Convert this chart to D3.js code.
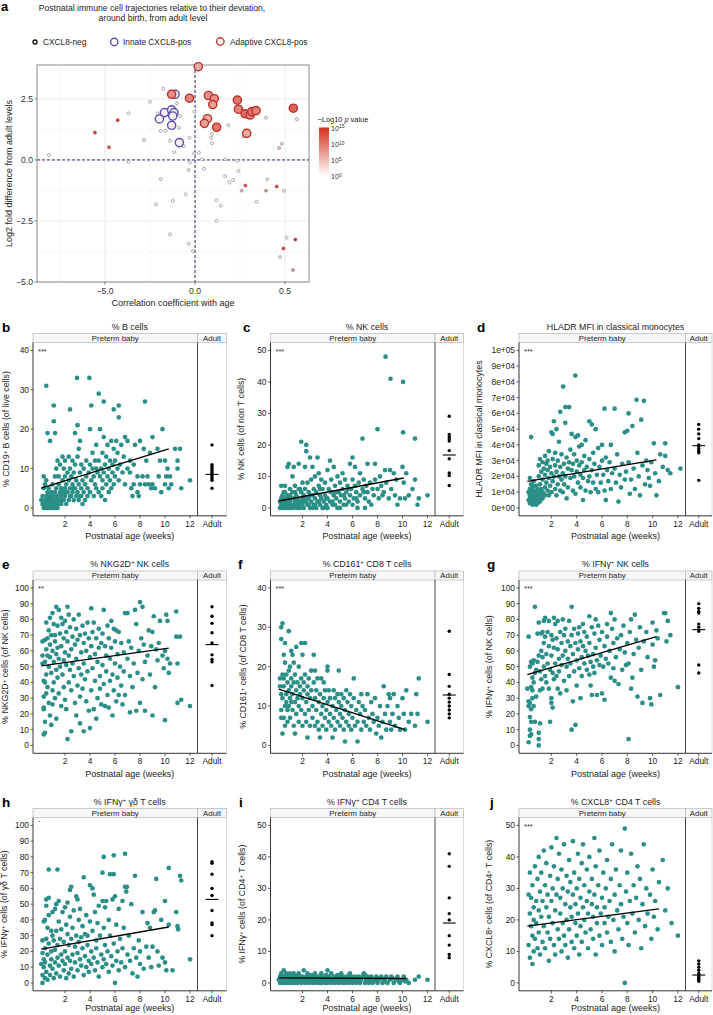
<!DOCTYPE html>
<html><head><meta charset="utf-8">
<script src="https://cdn.jsdelivr.net/npm/d3@7"></script>
<style>body{margin:0;background:#fff}svg{display:block;font-family:"Liberation Sans",Arial,Helvetica,sans-serif}</style>
</head><body>
<script>
// ---------- Panel a data: [correlation, log2 fold diff, -log10 p] ----------
const negPoints = [[-0.176,2.92,0],[-0.10,2.32,0],[-0.25,2.39,0],[-0.37,1.91,0],[-0.43,1.63,14],[-0.556,1.12,14],[-0.478,0.52,11],[-0.811,0.20,0],[-0.37,-0.08,0],[-0.283,0.82,1],[-0.207,1.91,0],[-0.19,1.19,0],[-0.163,1.20,0],[-0.139,0.79,0],[-0.115,0.32,0],[-0.089,1.32,0],[-0.083,1.80,0],[-0.063,0.57,0],[-0.031,0.91,0],[-0.006,0.27,0],[-0.004,1.97,0],[0.022,0.30,0],[-0.028,-0.11,0],[-0.035,-0.41,0],[0.039,0.03,0],[0.05,-0.36,0],[0.094,1.07,0],[0.089,0.91,0],[0.094,0.68,0],[0.185,1.42,0],[0.169,0.03,0],[0.235,-0.03,0],[0.241,-0.45,0],[0.269,0.96,2],[0.394,1.73,1],[0.565,1.67,1],[0.467,0.49,4],[0.481,0.66,3],[-0.19,-0.79,0],[-0.217,-1.82,0],[-0.124,-1.68,0],[-0.052,-1.41,0],[0.119,-1.65,0],[0.143,-1.87,0],[0.167,-0.66,0],[0.191,-0.93,0],[0.211,-0.82,0],[0.259,-1.26,6],[0.28,-1.05,12],[0.343,-1.71,0],[0.394,-1.26,8],[0.402,-0.79,1],[0.454,-1.09,13],[0.494,-1.26,0],[0.12,-2.50,0],[-0.139,-3.05,0],[-0.035,-3.43,0],[-0.011,-3.73,0],[0.509,-3.18,0],[0.557,-3.26,15],[0.491,-3.63,13],[0.472,-3.98,1],[0.544,-4.51,8]];
const innatePoints = [[-0.111,2.69,1],[-0.17,1.94,1],[-0.198,1.68,1],[-0.13,2.05,1],[-0.117,1.94,1],[-0.124,1.80,1],[-0.13,1.42,1],[-0.087,0.71,1]];
const adaptivePoints = [[0.018,3.82,6],[-0.031,2.53,9],[0.074,2.64,8],[0.107,2.51,8],[0.098,2.27,7],[0.069,1.69,6],[0.052,1.50,7],[0.12,1.34,10],[0.235,2.45,10],[0.241,2.08,9],[0.278,1.89,10],[0.306,1.84,9],[0.315,1.98,10],[0.339,2.02,9],[0.287,1.09,6],[0.546,2.12,11],[-0.13,2.69,8]];
const aXTicks = [-0.5,0,0.5], aXLabels = ["\u22125.0","0.0","0.5"];
const aYTicks = [2.5,0,-2.5,-5], aYLabels = ["2.5","0.0","\u22122.5","\u22125.0"];
const pLegendTicks = [15,10,5,0];

// ---------- Panels b-j: preterm [weeks, value] ----------
const ptB = [[0.1,2],[0.2,1],[0.2,3],[0.3,0],[0.3,5],[0.3,8],[0.4,1],[0.4,2],[0.4,6],[0.5,0],[0.5,3],[0.5,7],[0.5,31],[0.6,1],[0.6,2],[0.6,4],[0.6,19],[0.7,0],[0.7,1],[0.7,3],[0.7,5],[0.8,1],[0.8,2],[0.8,17],[0.9,0],[0.9,1],[0.9,4],[1.0,1],[1.0,2],[1.0,3],[1.0,6],[1.1,0],[1.1,1],[1.1,26],[1.1,22],[1.2,1],[1.2,4],[1.2,8],[1.2,19],[1.3,2],[1.3,5],[1.3,10],[1.4,1],[1.4,3],[1.4,12],[1.5,2],[1.5,6],[1.5,8],[1.6,4],[1.6,11],[1.7,1],[1.7,5],[1.8,2],[1.8,7],[1.8,13],[1.9,4],[1.9,10],[2.0,3],[2.0,5],[2.0,8],[2.0,12],[2.1,1],[2.1,6],[2.2,4],[2.2,9],[2.3,2],[2.3,7],[2.3,13],[2.4,5],[2.4,25],[2.4,10],[2.5,3],[2.5,8],[2.6,4],[2.6,6],[2.6,12],[2.7,2],[2.7,9],[2.8,5],[2.8,19],[2.8,11],[2.9,3],[2.9,7],[2.96,33],[3.0,4],[3.0,13],[3.0,21],[3.1,2],[3.1,6],[3.1,15],[3.2,3],[3.2,9],[3.2,17],[3.3,5],[3.3,11],[3.4,1],[3.4,7],[3.5,4],[3.5,10],[3.6,2],[3.6,6],[3.7,8],[3.7,12],[3.8,3],[3.8,5],[3.95,33],[3.9,9],[4.0,4],[4.0,11],[4.0,20],[4.1,7],[4.1,26],[4.2,10],[4.2,14],[4.3,3],[4.3,8],[4.4,6],[4.4,12],[4.5,5],[4.5,10],[4.5,16],[4.6,9],[4.7,4],[4.7,29],[4.7,12],[4.8,8],[4.8,20],[4.9,3],[4.9,10],[5.0,5],[5.0,7],[5.0,14],[5.1,9],[5.1,18],[5.1,27],[5.2,2],[5.2,11],[5.3,6],[5.3,13],[5.4,8],[5.4,16],[5.5,4],[5.5,10],[5.6,7],[5.6,12],[5.7,5],[5.7,17],[5.8,9],[5.8,11],[5.9,6],[5.9,15],[5.9,25],[6.0,8],[6.0,12],[6.1,17],[6.2,10],[6.2,14],[6.3,23],[6.3,26],[6.3,7],[6.4,11],[6.5,16],[6.6,9],[6.7,13],[6.8,6],[6.8,18],[7.0,10],[7.0,17],[7.2,9],[7.2,12],[7.3,5],[7.4,3],[7.5,6],[7.5,11],[7.6,16],[7.8,4],[7.8,8],[7.9,3],[8.0,6],[8.0,17],[8.2,8],[8.3,15],[8.4,6],[8.4,27],[8.5,12],[8.6,8],[8.7,6],[8.8,14],[8.9,5],[9.0,6],[9.0,18],[9.2,5],[9.4,15],[9.5,8],[9.6,12],[9.7,4],[9.8,20],[10.0,6],[10.0,12],[10.1,8],[10.2,10],[10.3,5],[10.4,8],[10.5,6],[10.8,15],[11.0,10],[11.0,12],[11.2,15],[11.3,5],[12.0,7],[0.3,1],[0.4,0],[0.5,2],[0.6,0],[0.7,2],[0.8,0],[0.9,2],[1.0,0],[1.1,2],[1.2,0],[1.3,1],[1.4,0],[0.8,3],[0.9,3],[1.2,2],[1.5,1],[1.6,2],[1.3,3],[1.7,3],[1.9,2],[2.1,4],[2.4,3],[2.7,5],[3.3,3]];
const ptC = [[0.2,0],[0.3,1],[0.3,3],[0.3,7],[0.4,0],[0.4,2],[0.5,1],[0.5,5],[0.6,0],[0.6,3],[0.6,7],[0.7,1],[0.7,2],[0.8,0],[0.8,4],[0.8,13],[0.9,1],[0.9,14],[1.0,0],[1.0,2],[1.0,6],[1.1,1],[1.1,3],[1.2,0],[1.2,5],[1.2,10],[1.3,1],[1.3,13],[1.4,2],[1.4,7],[1.5,0],[1.5,4],[1.6,1],[1.6,3],[1.7,14],[1.7,6],[1.8,0],[1.8,2],[1.9,21],[1.9,5],[2.0,1],[2.0,3],[2.0,8],[2.1,0],[2.1,4],[2.2,13],[2.2,6],[2.3,20],[2.3,18],[2.3,2],[2.4,1],[2.4,8],[2.5,3],[2.5,5],[2.6,0],[2.6,16],[2.7,2],[2.7,9],[2.8,4],[2.8,13],[2.9,1],[2.9,6],[3.0,3],[3.0,10],[3.1,0],[3.1,5],[3.2,2],[3.2,16],[3.3,7],[3.3,11],[3.4,1],[3.4,4],[3.5,3],[3.5,9],[3.6,0],[3.6,6],[3.7,2],[3.8,8],[3.8,4],[3.9,1],[4.0,3],[4.0,12],[4.1,6],[4.2,15],[4.2,2],[4.3,9],[4.3,5],[4.4,1],[4.5,4],[4.5,13],[4.6,7],[4.7,3],[4.8,10],[4.8,0],[4.9,5],[5.0,2],[5.0,8],[5.1,4],[5.2,11],[5.2,6],[5.3,1],[5.4,3],[5.4,9],[5.5,5],[5.6,7],[5.7,2],[5.8,14],[5.8,4],[5.9,6],[6.0,16],[6.0,9],[6.0,1],[6.1,3],[6.2,13],[6.2,7],[6.3,5],[6.4,2],[6.5,8],[6.6,11],[6.6,4],[6.8,22],[6.8,6],[6.9,9],[7.0,3],[7.1,7],[7.2,14],[7.2,5],[7.4,8],[7.5,1],[7.6,6],[7.7,4],[7.8,14],[7.8,9],[8.0,25],[8.0,6],[8.1,3],[8.2,10],[8.3,7],[8.5,5],[8.6,12],[8.64,48],[8.7,8],[8.9,3],[9.04,41],[9.0,12],[9.1,6],[9.3,11],[9.4,4],[9.5,9],[9.6,1],[9.8,3],[10.0,13],[10.05,24],[10.05,40],[10.1,8],[10.2,3],[10.3,11],[10.5,4],[10.8,6],[11.0,22],[11.0,9],[11.2,1],[11.3,3],[12.0,4],[0.2,2],[0.4,4],[0.5,0],[0.7,0],[0.9,3],[1.1,0],[1.3,3],[1.5,2],[1.7,0],[1.9,1],[2.1,2],[2.5,1],[2.8,0],[3.0,1],[3.3,2],[3.7,0],[4.0,0],[4.4,2],[4.6,1],[5.0,0],[5.5,1],[6.4,0],[7.0,0],[0.6,5],[1.0,4],[1.4,5],[1.8,6],[2.2,3],[2.6,4],[3.4,6],[3.9,3],[4.7,5],[5.3,4],[5.7,6],[6.3,3],[6.9,5],[7.3,2],[8.4,4]];
const ptD = [[0.2,1.0],[0.2,0.5],[0.3,0.3],[0.3,0.8],[0.3,1.2],[0.3,1.9],[0.4,0.4],[0.4,0.7],[0.4,1.0],[0.4,4.5],[0.4,1.5],[0.5,0.2],[0.5,0.6],[0.5,0.9],[0.5,1.3],[0.6,0.4],[0.6,0.8],[0.6,1.1],[0.6,1.7],[0.7,0.3],[0.7,0.6],[0.7,1.0],[0.8,0.5],[0.8,0.9],[0.8,1.4],[0.9,0.3],[0.9,0.7],[0.9,1.2],[1.0,0.5],[1.0,1.0],[1.0,2.0],[1.0,2.7],[1.1,0.8],[1.1,1.5],[1.1,3.1],[1.2,0.6],[1.2,1.2],[1.2,2.3],[1.3,1.0],[1.3,1.8],[1.3,2.9],[1.4,0.9],[1.4,2.5],[1.5,1.3],[1.5,2.1],[1.5,3.3],[1.6,1.6],[1.6,2.8],[1.7,1.1],[1.7,2.4],[1.7,3.0],[1.8,0.8],[1.8,1.9],[1.8,3.6],[1.9,1.4],[1.9,2.6],[2.0,1.0],[2.0,2.2],[2.0,4.8],[2.1,1.7],[2.1,3.1],[2.1,4.7],[2.2,2.0],[2.2,5.5],[2.3,1.2],[2.3,2.7],[2.3,3.5],[2.4,0.8],[2.4,2.3],[2.4,5.0],[2.5,1.5],[2.5,3.0],[2.6,2.0],[2.6,4.2],[2.7,6.1],[2.7,1.1],[2.7,2.6],[2.8,1.8],[2.8,3.4],[2.9,2.2],[2.93,7.7],[2.9,1.0],[3.0,2.8],[3.0,1.5],[3.1,6.4],[3.1,5.4],[3.1,2.0],[3.2,3.2],[3.2,0.6],[3.3,2.5],[3.3,1.3],[3.4,6.4],[3.4,2.9],[3.5,1.9],[3.5,3.7],[3.6,4.7],[3.6,2.4],[3.7,1.1],[3.7,2.8],[3.8,3.4],[3.8,2.0],[3.89,8.4],[3.9,4.5],[3.9,0.9],[4.0,2.3],[4.0,3.0],[4.1,4.6],[4.1,1.6],[4.2,2.7],[4.2,3.9],[4.3,1.3],[4.3,2.1],[4.4,4.0],[4.4,2.9],[4.5,0.5],[4.5,1.9],[4.6,3.3],[4.6,2.4],[4.7,4.3],[4.7,1.1],[4.8,2.6],[4.9,1.7],[5.0,5.5],[5.0,3.1],[5.0,2.0],[5.1,1.0],[5.2,2.4],[5.2,5.3],[5.3,1.6],[5.3,3.5],[5.4,2.8],[5.5,1.2],[5.5,5.0],[5.6,2.1],[5.7,3.8],[5.7,1.0],[5.8,2.6],[5.9,1.6],[6.0,3.0],[6.0,4.0],[6.1,2.1],[6.2,6.3],[6.2,1.1],[6.3,0.5],[6.3,3.2],[6.4,2.4],[6.5,1.7],[6.6,2.9],[6.7,4.0],[6.7,1.2],[6.8,2.2],[7.0,6.3],[7.0,2.5],[7.1,1.6],[7.2,3.4],[7.3,0.4],[7.4,2.1],[7.5,1.3],[7.6,2.8],[7.8,4.8],[7.8,1.8],[7.9,2.3],[8.0,4.9],[8.1,6.0],[8.1,2.9],[8.2,0.9],[8.3,1.8],[8.4,5.2],[8.5,2.5],[8.6,1.2],[8.73,6.86],[8.8,3.5],[8.9,2.0],[9.0,0.8],[9.1,5.6],[9.2,2.7],[9.31,6.8],[9.4,1.5],[9.5,3.0],[9.6,2.4],[9.8,1.4],[9.9,2.9],[10.1,4.1],[10.2,2.2],[10.3,0.8],[10.5,1.7],[10.8,2.6],[11.0,4.1],[11.0,3.3],[11.2,2.4],[11.4,2.2],[12.2,2.5],[10.6,3.4],[9.7,1.9],[0.3,0.6],[0.5,0.4],[0.7,0.8],[0.9,0.5],[0.4,1.2],[0.6,1.4],[0.8,0.2],[1.1,0.4],[1.3,0.6],[1.5,0.8]];
const ptE = [[0.2,52],[0.2,57],[0.2,66],[0.3,41],[0.3,31],[0.3,24],[0.3,23],[0.3,7],[0.4,8],[0.4,15],[0.4,40],[0.4,53],[0.4,67],[0.5,78],[0.5,61],[0.5,33],[0.5,45],[0.6,57],[0.6,68],[0.6,37],[0.7,50],[0.7,73],[0.7,27],[0.8,19],[0.8,56],[0.8,64],[0.8,81],[0.9,13],[0.9,46],[0.9,70],[1.0,60],[1.0,35],[1.0,26],[1.0,84],[1.1,77],[1.1,53],[1.1,40],[1.2,66],[1.2,30],[1.2,70],[1.3,88],[1.3,48],[1.3,17],[1.3,58],[1.4,76],[1.4,62],[1.4,43],[1.5,86],[1.5,55],[1.5,33],[1.6,71],[1.6,50],[1.7,81],[1.7,63],[1.7,25],[1.8,77],[1.8,45],[1.9,68],[1.9,37],[1.9,54],[2.0,79],[2.0,59],[2.0,29],[2.1,72],[2.1,51],[2.1,23],[2.2,88],[2.2,66],[2.2,4],[2.3,83],[2.3,57],[2.3,40],[2.4,75],[2.4,48],[2.5,9],[2.5,61],[2.5,35],[2.6,69],[2.6,52],[2.7,80],[2.7,44],[2.8,64],[2.8,27],[2.9,55],[2.9,19],[2.9,74],[3.0,67],[3.0,38],[3.1,83],[3.1,49],[3.2,70],[3.2,31],[3.2,14],[3.3,59],[3.3,45],[3.4,76],[3.4,36],[3.5,65],[3.5,9],[3.5,52],[3.6,71],[3.6,42],[3.7,60],[3.7,28],[3.8,78],[3.8,47],[3.9,68],[3.9,22],[4.0,56],[4.0,11],[4.1,87],[4.1,63],[4.1,35],[4.2,72],[4.2,49],[4.3,78],[4.3,23],[4.4,58],[4.4,41],[4.5,68],[4.5,17],[4.6,53],[4.6,30],[4.7,74],[4.7,62],[4.8,44],[4.8,36],[4.9,65],[4.9,26],[5.0,71],[5.0,51],[5.1,86],[5.1,39],[5.2,63],[5.2,25],[5.3,57],[5.3,47],[5.4,76],[5.4,32],[5.5,68],[5.5,24],[5.6,55],[5.6,41],[5.7,79],[5.7,62],[5.8,45],[5.8,19],[5.9,74],[5.9,35],[6.0,66],[6.0,52],[6.1,73],[6.1,28],[6.2,58],[6.2,43],[6.3,72],[6.3,32],[6.4,50],[6.5,65],[6.5,38],[6.6,26],[6.7,59],[6.7,47],[6.8,84],[6.8,32],[7.0,84],[7.0,55],[7.1,66],[7.2,44],[7.2,21],[7.3,62],[7.4,37],[7.5,52],[7.6,86],[7.7,77],[7.7,22],[7.8,46],[7.9,60],[8.0,91],[8.0,27],[8.1,68],[8.2,88],[8.2,42],[8.3,64],[8.4,53],[8.4,22],[8.6,57],[8.7,73],[8.8,45],[8.9,63],[9.0,19],[9.0,72],[9.1,82],[9.2,37],[9.3,61],[9.4,54],[9.5,65],[9.6,79],[9.8,57],[9.9,49],[10.0,16],[10.0,60],[10.1,83],[10.2,79],[10.2,55],[10.3,46],[10.4,52],[10.9,85],[10.9,69],[11.0,52],[11.0,27],[11.3,29],[11.2,69],[12.0,25]];
const ptF = [[0.2,15],[0.2,17],[0.3,27],[0.3,30],[0.3,13],[0.3,9],[0.3,7],[0.4,31],[0.4,18],[0.4,12],[0.4,3],[0.5,17],[0.5,23],[0.5,7],[0.5,15],[0.6,21],[0.6,26],[0.6,10],[0.6,5],[0.7,13],[0.7,18],[0.7,11],[0.8,16],[0.8,9],[0.8,6],[0.9,29],[0.9,19],[0.9,14],[0.9,10],[1.0,20],[1.0,12],[1.0,7],[1.1,24],[1.1,17],[1.1,11],[1.1,15],[1.2,23],[1.2,9],[1.2,13],[1.3,21],[1.3,16],[1.3,5],[1.4,3],[1.4,18],[1.4,11],[1.5,25],[1.5,14],[1.5,8],[1.6,12],[1.6,16],[1.7,20],[1.7,10],[1.7,6],[1.8,15],[1.8,13],[1.9,26],[1.9,17],[1.9,9],[2.0,23],[2.0,12],[2.0,5],[2.1,16],[2.1,14],[2.2,26],[2.2,18],[2.2,8],[2.3,11],[2.3,6],[2.4,2],[2.4,15],[2.4,13],[2.5,17],[2.5,9],[2.6,12],[2.6,5],[2.7,19],[2.7,14],[2.8,10],[2.8,7],[2.9,23],[2.9,16],[3.0,19],[3.0,12],[3.0,5],[3.1,9],[3.1,14],[3.2,17],[3.2,6],[3.3,11],[3.3,4],[3.4,2],[3.4,13],[3.5,17],[3.5,8],[3.6,10],[3.6,5],[3.7,16],[3.7,12],[3.8,7],[3.8,14],[3.9,9],[3.9,4],[4.0,20],[4.0,19],[4.0,11],[4.1,6],[4.1,14],[4.2,8],[4.2,12],[4.3,5],[4.4,2],[4.4,10],[4.5,14],[4.5,7],[4.6,12],[4.6,4],[4.7,9],[4.8,6],[4.8,13],[4.9,19],[4.9,11],[5.0,8],[5.0,5],[5.1,13],[5.1,10],[5.2,7],[5.3,4],[5.3,12],[5.4,1],[5.4,9],[5.5,14],[5.5,6],[5.6,11],[5.7,8],[5.7,5],[5.8,13],[5.9,10],[5.9,4],[6.0,7],[6.1,17],[6.1,12],[6.2,5],[6.3,9],[6.4,1],[6.4,6],[6.5,11],[6.6,8],[6.7,13],[6.7,4],[6.8,10],[6.9,6],[7.0,9],[7.1,5],[7.2,13],[7.3,7],[7.4,4],[7.5,11],[7.6,8],[7.7,6],[7.8,12],[7.9,3],[8.0,7],[8.1,5],[8.2,10],[8.3,2],[8.4,6],[8.5,15],[8.6,8],[8.7,4],[8.8,10],[8.9,13],[9.0,6],[9.0,12],[9.1,4],[9.2,8],[9.3,13],[9.4,5],[9.6,10],[9.7,7],[9.8,4],[10.0,12],[10.1,8],[10.2,4],[10.3,14],[10.5,6],[10.7,8],[11.0,5],[11.1,13],[11.2,8],[11.3,17],[12.0,6]];
const ptG = [[0.1,36],[0.2,28],[0.2,25],[0.2,2],[0.2,69],[0.3,18],[0.3,10],[0.3,6],[0.3,27],[0.3,50],[0.4,53],[0.4,15],[0.4,37],[0.4,7],[0.4,23],[0.5,30],[0.5,43],[0.5,52],[0.5,35],[0.6,40],[0.6,25],[0.6,54],[0.7,15],[0.7,88],[0.7,46],[0.8,48],[0.8,31],[0.9,53],[0.9,71],[1.0,0],[1.0,4],[1.0,8],[1.0,78],[1.0,57],[1.1,14],[1.1,35],[1.1,47],[1.2,71],[1.2,60],[1.2,42],[1.3,56],[1.3,72],[1.3,36],[1.4,79],[1.4,65],[1.4,50],[1.5,81],[1.5,69],[1.5,44],[1.6,58],[1.6,40],[1.7,72],[1.7,52],[1.8,79],[1.8,63],[1.8,36],[1.9,15],[1.9,48],[2.0,70],[2.0,57],[2.0,30],[2.0,27],[2.1,67],[2.1,46],[2.1,24],[2.2,81],[2.2,62],[2.2,42],[2.3,77],[2.3,52],[2.4,68],[2.4,44],[2.5,79],[2.5,61],[2.5,36],[2.6,55],[2.6,47],[2.7,72],[2.7,33],[2.8,65],[2.8,51],[2.9,80],[2.9,57],[3.0,70],[3.0,41],[3.1,74],[3.1,60],[3.2,50],[3.2,35],[3.3,66],[3.3,55],[3.4,79],[3.4,44],[3.5,63],[3.5,52],[3.6,88],[3.6,10],[3.6,70],[3.7,58],[3.7,28],[3.8,74],[3.8,47],[3.9,65],[3.9,13],[4.0,54],[4.0,38],[4.1,71],[4.1,61],[4.2,75],[4.2,49],[4.3,30],[4.3,66],[4.4,56],[4.4,44],[4.5,77],[4.5,63],[4.6,52],[4.6,72],[4.7,60],[4.8,48],[4.8,69],[4.9,57],[5.0,82],[5.0,45],[5.0,65],[5.1,53],[5.1,38],[5.2,75],[5.2,32],[5.3,58],[5.3,50],[5.4,71],[5.4,46],[5.5,80],[5.5,62],[5.6,32],[5.6,54],[5.7,76],[5.8,51],[5.8,67],[5.9,57],[6.0,33],[6.0,72],[6.1,50],[6.2,63],[6.2,29],[6.3,55],[6.4,77],[6.4,69],[6.5,52],[6.6,60],[6.7,84],[6.7,43],[6.8,74],[6.9,49],[6.9,65],[7.0,41],[7.0,80],[7.1,56],[7.2,68],[7.3,39],[7.4,61],[7.5,70],[7.6,48],[7.7,76],[7.8,59],[7.9,51],[8.0,65],[8.1,4],[8.1,52],[8.2,72],[8.3,36],[8.3,80],[8.4,43],[8.5,58],[8.6,83],[8.7,67],[8.8,31],[8.9,62],[9.0,75],[9.1,48],[9.2,27],[9.3,66],[9.5,72],[9.6,56],[9.8,30],[9.9,26],[10.0,78],[10.0,64],[10.1,50],[10.2,54],[10.3,73],[10.4,68],[10.6,32],[10.9,84],[11.0,84],[11.1,66],[11.2,79],[11.4,70],[12.0,37]];
const ptH = [[0.1,12],[0.2,0],[0.2,27],[0.2,19],[0.2,5],[0.3,39],[0.3,15],[0.3,10],[0.4,40],[0.4,22],[0.4,13],[0.4,3],[0.5,53],[0.5,49],[0.5,28],[0.5,7],[0.6,35],[0.6,18],[0.6,2],[0.7,72],[0.7,54],[0.7,43],[0.7,25],[0.8,11],[0.8,5],[0.9,33],[0.9,20],[0.9,15],[1.0,30],[1.0,45],[1.0,9],[1.1,27],[1.1,3],[1.2,47],[1.2,13],[1.2,21],[1.3,50],[1.3,33],[1.3,6],[1.4,72],[1.4,24],[1.4,16],[1.5,39],[1.5,11],[1.5,52],[1.6,28],[1.6,4],[1.7,18],[1.7,34],[1.8,45],[1.8,14],[1.9,8],[1.9,26],[2.0,48],[2.0,20],[2.0,12],[2.1,37],[2.1,3],[2.2,51],[2.2,31],[2.2,16],[2.3,6],[2.3,24],[2.4,59],[2.4,42],[2.4,14],[2.5,61],[2.5,28],[2.5,9],[2.6,35],[2.6,18],[2.7,46],[2.7,4],[2.8,23],[2.8,13],[2.9,55],[2.9,30],[3.0,53],[3.0,19],[3.0,8],[3.1,40],[3.1,26],[3.2,47],[3.2,15],[3.3,29],[3.3,11],[3.4,36],[3.4,22],[3.5,67],[3.5,5],[3.6,31],[3.6,17],[3.7,43],[3.7,10],[3.8,24],[3.8,30],[3.9,14],[3.9,7],[4.0,62],[4.0,39],[4.1,20],[4.1,12],[4.2,60],[4.2,33],[4.3,56],[4.3,16],[4.4,45],[4.4,8],[4.5,27],[4.5,22],[4.6,38],[4.6,13],[4.7,49],[4.7,4],[4.8,30],[4.9,18],[5.0,70],[5.0,52],[5.0,10],[5.1,80],[5.1,35],[5.1,15],[5.2,48],[5.2,24],[5.3,52],[5.3,12],[5.4,20],[5.5,7],[5.5,40],[5.6,69],[5.6,30],[5.7,17],[5.8,53],[5.8,11],[5.9,81],[5.9,69],[5.9,25],[6.0,0],[6.0,55],[6.1,37],[6.1,14],[6.2,20],[6.3,47],[6.3,8],[6.4,28],[6.5,13],[6.6,52],[6.6,22],[6.7,35],[6.8,82],[6.8,61],[6.8,10],[6.9,58],[6.95,61],[7.0,18],[7.1,30],[7.2,14],[7.3,50],[7.4,6],[7.5,22],[7.6,68],[7.7,16],[7.8,4],[7.9,27],[8.0,12],[8.0,20],[8.2,45],[8.3,9],[8.5,23],[8.6,38],[8.7,16],[8.8,35],[8.9,10],[9.0,23],[9.1,45],[9.2,46],[9.3,66],[9.4,20],[9.5,11],[9.7,40],[9.8,16],[10.0,52],[10.0,13],[10.1,8],[10.3,73],[10.3,37],[10.6,8],[10.9,45],[11.0,36],[11.05,34],[11.2,68],[11.3,65],[12.0,15]];
const ptI = [[0.1,1],[0.2,0],[0.2,2],[0.3,1],[0.3,3],[0.4,0],[0.4,2],[0.5,1],[0.5,4],[0.6,0],[0.6,2],[0.7,1],[0.7,3],[0.8,0],[0.8,2],[0.9,1],[1.0,0],[1.0,2],[1.0,3],[1.1,1],[1.2,0],[1.2,2],[1.3,1],[1.3,3],[1.4,0],[1.5,2],[1.5,1],[1.6,0],[1.7,1],[1.7,3],[1.8,2],[1.9,0],[1.9,1],[2.0,2],[2.1,1],[2.1,4],[2.2,0],[2.3,2],[2.3,1],[2.4,3],[2.5,0],[2.5,1],[2.6,2],[2.7,1],[2.8,0],[2.8,2],[2.9,1],[3.0,3],[3.0,0],[3.1,2],[3.2,1],[3.3,0],[3.3,2],[3.4,1],[3.5,3],[3.5,0],[3.6,2],[3.7,1],[3.8,0],[3.8,2],[3.9,1],[4.0,4],[4.0,0],[4.1,2],[4.2,1],[4.3,0],[4.3,3],[4.4,1],[4.5,2],[4.6,0],[4.6,1],[4.7,2],[4.8,1],[4.9,0],[5.0,2],[5.0,1],[5.1,3],[5.2,0],[5.3,1],[5.3,2],[5.4,0],[5.5,1],[5.6,2],[5.7,0],[5.8,1],[5.8,3],[5.9,2],[6.0,0],[6.1,1],[6.2,2],[6.3,0],[6.4,1],[6.5,2],[6.6,0],[6.7,1],[6.8,2],[6.9,3],[7.0,0],[7.1,1],[7.2,2],[7.3,0],[7.4,1],[7.5,2],[7.6,0],[7.8,1],[7.9,2],[8.0,0],[8.1,1],[8.3,2],[8.4,0],[8.5,1],[8.7,2],[8.8,0],[9.0,1],[9.1,2],[9.3,0],[9.5,1],[9.6,2],[9.8,0],[10.0,1],[10.1,2],[10.3,1],[10.5,0],[11.0,1],[11.3,2],[12.0,1],[0.3,0.5],[0.6,1.5],[0.9,2.5],[1.1,0.5],[1.4,1.5],[1.6,2.5],[2.0,0.5],[2.2,1.5],[2.7,2.5],[2.9,0.5],[3.2,1.5],[3.6,0.5],[3.9,2.5],[4.2,0.5],[4.5,1.5],[4.8,2.5],[5.1,0.5],[5.4,1.5],[5.7,2.5],[6.0,1.5],[6.3,0.5],[6.6,1.5],[7.0,2.5],[7.3,1.5],[7.7,0.5],[8.2,1.5],[8.6,0.5],[9.2,1.5],[9.7,0.5],[10.2,0.5]];
const ptJ = [[0.2,28],[0.2,12],[0.3,22],[0.3,35],[0.3,8],[0.4,18],[0.4,27],[0.5,15],[0.5,31],[0.5,6],[0.6,24],[0.6,20],[0.6,10],[0.7,37],[0.7,14],[0.8,26],[0.8,19],[0.9,11],[0.9,33],[1.0,23],[1.0,16],[1.0,40],[1.1,29],[1.1,9],[1.2,21],[1.2,35],[1.3,13],[1.3,26],[1.4,42],[1.4,18],[1.5,31],[1.5,11],[1.6,24],[1.6,38],[1.7,16],[1.7,28],[1.8,21],[1.8,7],[1.9,34],[1.9,14],[2.0,26],[2.0,43],[2.1,19],[2.1,30],[2.2,12],[2.2,37],[2.3,23],[2.3,9],[2.4,46],[2.4,28],[2.5,17],[2.5,33],[2.6,14],[2.6,41],[2.7,22],[2.7,27],[2.8,10],[2.8,36],[2.9,19],[2.9,30],[3.0,15],[3.0,44],[3.1,25],[3.1,12],[3.2,34],[3.2,20],[3.3,29],[3.3,8],[3.4,39],[3.4,17],[3.5,24],[3.5,32],[3.6,13],[3.6,21],[3.7,45],[3.7,28],[3.8,11],[3.8,35],[3.9,19],[3.9,25],[4.0,30],[4.0,15],[4.1,41],[4.1,22],[4.2,9],[4.2,33],[4.3,18],[4.3,27],[4.4,38],[4.4,13],[4.5,24],[4.5,44],[4.6,20],[4.6,31],[4.7,16],[4.8,26],[4.8,36],[4.9,11],[4.9,22],[5.0,29],[5.0,40],[5.1,17],[5.2,25],[5.2,33],[5.3,14],[5.3,21],[5.4,46],[5.4,28],[5.5,9],[5.5,37],[5.6,19],[5.6,24],[5.7,31],[5.8,15],[5.8,42],[5.9,22],[6.0,27],[6.0,12],[6.1,35],[6.2,19],[6.2,24],[6.3,30],[6.4,16],[6.4,39],[6.5,21],[6.6,26],[6.7,13],[6.7,33],[6.8,44],[6.9,20],[7.0,28],[7.0,10],[7.1,36],[7.2,23],[7.3,17],[7.4,31],[7.5,42],[7.5,25],[7.6,14],[7.7,21],[7.8,49],[7.8,0],[7.9,29],[8.0,35],[8.0,19],[8.1,12],[8.2,26],[8.3,41],[8.4,22],[8.5,31],[8.6,16],[8.7,27],[8.8,37],[8.9,20],[9.0,33],[9.1,11],[9.2,25],[9.3,44],[9.4,18],[9.5,30],[9.6,22],[9.8,28],[9.9,14],[10.0,36],[10.1,21],[10.2,26],[10.4,17],[10.5,32],[10.8,39],[11.0,23],[11.2,30],[11.5,19],[12.0,15]];

// ---------- Adult values ----------
const adB = [16,11,10.5,10,9.5,9,8.5,8,7.5,7,5];
const adC = [29.1,23.3,22.5,21.9,21.2,18.2,15.6,11.1,10.3,7.1];
const adD = [5.3,5.0,4.7,4.4,4.0,3.9,3.75,3.6,3.5,1.75];
const adE = [88,82,77.5,71.5,65,57.5,54.5,53,38];
const adF = [29,18,15,13,12,11,10,9,8,7];
const adG = [90,87,85,84,77,75,72.5,51,46];
const adH = [77,76,69,60,55.5,46,38,37,30];
const adI = [41,37,27,22,20,15,12,9,8];
const adJ = [7,6,5,4,3,2.5,2,1.5,1,0.5];
const adultMedians = [8.5,16.8,3.95,64,12.8,73.5,53,19,2.5];

// ---------- Regression lines [x0,y0,x1,y1] ----------
const trendLines = [[0.1,5,10.3,15],[0.1,2.2,10.1,9.5],[0.1,1.68,10.3,3.05],[0.1,50.5,10.3,61.7],[0.1,14.3,10.2,4.0],[0.1,45,10.3,69],[0.1,21.5,10.3,35.5],[0.1,1.6,10.3,1.4],[0.1,18,10.5,23.5]];

// ---------- Panel text ----------
const panelLetters = ["b","c","d","e","f","g","h","i","j"];
const panelTitles = ["% B cells","% NK cells","HLADR MFI in classical monocytes","% NKG2D{+} NK cells","% CD161{+} CD8 T cells","% IFN\u03b3{+} NK cells","% IFN\u03b3{+} \u03b3\u03b4 T cells","% IFN\u03b3{+} CD4 T cells","% CXCL8{+} CD4 T cells"];
const yTitles = ["% CD19{+} B cells (of live cells)","% NK cells (of non T cells)","HLADR MFI in classical monocytes","% NKG2D{+} cells (of NK cells)","% CD161{+} cells (of CD8 T cells)","% IFN\u03b3{+} cells (of NK cells)","% IFN\u03b3{+} cells (of \u03b3\u03b4  T cells)","% IFN\u03b3{+} cells (of CD4{+} T cells)","% CXCL8{+} cells (of CD4{+} T cells)"];
const sigLabels = ["***","***","***","**","***","***","\u00b7","","***"];
const yMaxes = [40,50,10,100,40,100,100,50,50];
const yTickSets = [[0,10,20,30,40],[0,10,20,30,40,50],[0,1,2,3,4,5,6,7,8,9,10],d3.range(0,101,10),[0,10,20,30,40],d3.range(0,101,10),d3.range(0,101,10),[0,10,20,30,40,50],[0,10,20,30,40,50]];
const dTickLabels = ["0e+00","1e+04","2e+04","3e+04","4e+04","5e+04","6e+04","7e+04","8e+04","9e+04","1e+05"];
const xTicks = [2,4,6,8,10,12];
const stripLabels = ["Preterm baby","Adult"];

const preterm = [ptB,ptC,ptD,ptE,ptF,ptG,ptH,ptI,ptJ];
const adults = [adB,adC,adD,adE,adF,adG,adH,adI,adJ];

// ---------- Layout ----------
const colLeft = [33,270.5,519], colPW = [164.5,164.5,166.5], colAW = [29,28.5,26.5];
const rowStrip = [333.5,571,808.5];
const rowTitleOff = [23.5,23.5,20.5];
const letterX = [2,243,477,2,238,487,2,239,490];
const yTitleX = [9,244,482,8,246,492,7,245,492];
const TEAL = "#2b8f88";

const svg = d3.select("body").append("svg").attr("width",713).attr("height",1015);

function rich(t, s) {
  const parts = s.split(/(\{[^}]*\})/);
  let sup = false;
  parts.forEach(pt => {
    if (!pt) return;
    if (pt[0] === "{") {
      t.append("tspan").attr("dy","-0.42em").attr("font-size","0.68em").text(pt.slice(1,-1));
      sup = true;
    } else {
      const ts = t.append("tspan").text(pt);
      if (sup) { ts.attr("dy","0.29em"); sup = false; }
    }
  });
  return t;
}

// ================= Panel a =================
(function(){
  const L=37,R=309,T=65,B=282;
  const x = d3.scaleLinear().domain([-0.878,0.633]).range([L,R]);
  const y = d3.scaleLinear().domain([-5,3.89]).range([B,T]);
  const col = d3.scaleLinear().domain([0,15]).range(["#ffffff","#d32f1e"]);
  const g = svg.append("g");
  g.append("text").attr("x",1).attr("y",11).attr("font-size",13).attr("font-weight","bold").text("a");
  g.append("text").attr("x",152).attr("y",10.5).attr("text-anchor","middle").attr("font-size",8.6).attr("fill","#222").text("Postnatal immune cell trajectories relative to their deviation,");
  g.append("text").attr("x",153).attr("y",20.5).attr("text-anchor","middle").attr("font-size",8.6).attr("fill","#222").text("around birth, from adult level");
  // legend
  const lg = g.append("g").attr("font-size",8.3).attr("fill","#222");
  lg.append("circle").attr("cx",35).attr("cy",42).attr("r",2).attr("fill","none").attr("stroke","#111").attr("stroke-width",1.3);
  lg.append("text").attr("x",43).attr("y",45).text("CXCL8-neg");
  lg.append("circle").attr("cx",114.3).attr("cy",42).attr("r",3.7).attr("fill","none").attr("stroke","#5a4eb2").attr("stroke-width",1.4);
  lg.append("text").attr("x",123).attr("y",45).text("Innate CXCL8-pos");
  lg.append("circle").attr("cx",220.3).attr("cy",41.5).attr("r",3.7).attr("fill","none").attr("stroke","#c0392b").attr("stroke-width",1.4);
  lg.append("text").attr("x",230).attr("y",44.5).text("Adaptive CXCL8-pos");
  // panel
  g.append("rect").attr("x",L).attr("y",T).attr("width",R-L).attr("height",B-T).attr("fill","#fff");
  const minorX=[-0.75,-0.25,0.25], minorY=[3.75,1.25,-1.25,-3.75];
  g.selectAll(".mx").data(minorX).join("line").attr("x1",d=>x(d)).attr("x2",d=>x(d)).attr("y1",T).attr("y2",B).attr("stroke","#f3f3f3").attr("stroke-width",0.6);
  g.selectAll(".my").data(minorY).join("line").attr("y1",d=>y(d)).attr("y2",d=>y(d)).attr("x1",L).attr("x2",R).attr("stroke","#f3f3f3").attr("stroke-width",0.6);
  g.selectAll(".gx").data(aXTicks).join("line").attr("x1",d=>x(d)).attr("x2",d=>x(d)).attr("y1",T).attr("y2",B).attr("stroke","#e6e6e6").attr("stroke-width",0.8);
  g.selectAll(".gy").data(aYTicks).join("line").attr("y1",d=>y(d)).attr("y2",d=>y(d)).attr("x1",L).attr("x2",R).attr("stroke","#e6e6e6").attr("stroke-width",0.8);
  g.append("line").attr("x1",x(0)).attr("x2",x(0)).attr("y1",T).attr("y2",B).attr("stroke","#2e2e78").attr("stroke-width",1).attr("stroke-dasharray","3,2");
  g.append("line").attr("x1",L).attr("x2",R).attr("y1",y(0)).attr("y2",y(0)).attr("stroke","#2e2e78").attr("stroke-width",1).attr("stroke-dasharray","3,2");
  g.append("rect").attr("x",L).attr("y",T).attr("width",R-L).attr("height",B-T).attr("fill","none").attr("stroke","#8c8c8c").attr("stroke-width",1);
  // points
  g.selectAll(".neg").data(negPoints).join("circle").attr("cx",d=>x(d[0])).attr("cy",d=>y(d[1])).attr("r",1.5)
    .attr("fill",d=>col(d[2])).attr("stroke",d=>d[2]>9?"#9a3a30":"#8a8a8a").attr("stroke-width",0.7);
  g.selectAll(".inn").data(innatePoints).join("circle").attr("cx",d=>x(d[0])).attr("cy",d=>y(d[1])).attr("r",4.1)
    .attr("fill",d=>col(d[2])).attr("fill-opacity",0.9).attr("stroke","#5a4eb2").attr("stroke-width",1.4);
  g.selectAll(".adp").data(adaptivePoints).join("circle").attr("cx",d=>x(d[0])).attr("cy",d=>y(d[1])).attr("r",4.1)
    .attr("fill",d=>col(d[2])).attr("stroke","#b8302a").attr("stroke-width",1.4);
  // axes
  const ax = g.append("g").attr("font-size",8.6).attr("fill","#333");
  aXTicks.forEach((t,i)=>{
    ax.append("line").attr("x1",x(t)).attr("x2",x(t)).attr("y1",B).attr("y2",B+2.5).attr("stroke","#777");
    ax.append("text").attr("x",x(t)).attr("y",B+11.5).attr("text-anchor","middle").text(aXLabels[i]);
  });
  aYTicks.forEach((t,i)=>{
    ax.append("line").attr("x1",L-2.5).attr("x2",L).attr("y1",y(t)).attr("y2",y(t)).attr("stroke","#777");
    ax.append("text").attr("x",L-4).attr("y",y(t)+3).attr("text-anchor","end").text(aYLabels[i]);
  });
  g.append("text").attr("x",(L+R)/2).attr("y",306).attr("text-anchor","middle").attr("font-size",9).attr("fill","#222").text("Correlation coefficient with age");
  g.append("text").attr("transform",`translate(12,${(T+B)/2}) rotate(-90)`).attr("text-anchor","middle").attr("font-size",9).attr("fill","#222").text("Log2 fold difference from adult levels");
  // colour legend
  const defs = svg.append("defs");
  const grad = defs.append("linearGradient").attr("id","pgrad").attr("x1",0).attr("x2",0).attr("y1",1).attr("y2",0);
  [0,5,10,15].forEach(v=>grad.append("stop").attr("offset",v/15).attr("stop-color",col(v)));
  const cy = d3.scaleLinear().domain([0,15]).range([176,127.5]);
  g.append("text").attr("x",317.5).attr("y",122).attr("font-size",7.4).attr("fill","#222").call(t=>{t.append("tspan").text("\u2212Log10 ");t.append("tspan").attr("font-style","italic").text("p");t.append("tspan").text(" value");});
  g.append("rect").attr("x",319).attr("y",cy(15)).attr("width",10).attr("height",cy(0)-cy(15)).attr("fill","url(#pgrad)");
  pLegendTicks.forEach(v=>{
    const t = g.append("text").attr("x",331).attr("y",cy(v)+3).attr("font-size",7.2).attr("fill","#333");
    rich(t, "10{"+v+"}");
  });
})();

// ================= Panels b-j =================
preterm.forEach((pts, k) => {
  const col = k % 3, row = Math.floor(k / 3);
  const left = colLeft[col], pw = colPW[col], aw = colAW[col];
  const st = rowStrip[row], top = st + 9, bottom = st + 182.3;
  const x = d3.scaleLinear().domain([-0.56,12.6]).range([left, left+pw]);
  const xa = d3.scaleBand().domain(["Adult"]).range([left+pw, left+pw+aw]);
  const ym = yMaxes[k];
  const y = d3.scaleLinear().domain([-0.05*ym, 1.05*ym]).range([bottom, top]);
  const g = svg.append("g");
  // letter + title
  g.append("text").attr("x",letterX[k]).attr("y",st-2).attr("font-size",13.5).attr("font-weight","bold").text(panelLetters[k]);
  rich(g.append("text").attr("x",left+(pw+aw)/2).attr("y",st-4).attr("text-anchor","middle").attr("font-size",8.8).attr("fill","#222"), panelTitles[k]);
  // strips
  [[left,pw],[left+pw,aw]].forEach((s,i)=>{
    g.append("rect").attr("x",s[0]).attr("y",st).attr("width",s[1]).attr("height",9).attr("fill","#f7f7f7").attr("stroke","#b5b5b5").attr("stroke-width",0.7);
    g.append("text").attr("x",s[0]+s[1]/2).attr("y",st+7.3).attr("text-anchor","middle").attr("font-size",7.8).attr("fill","#222").text(stripLabels[i]);
  });
  // panel frames
  g.append("line").attr("x1",left+pw+aw).attr("x2",left+pw+aw).attr("y1",top).attr("y2",bottom).attr("stroke","#cfcfcf").attr("stroke-width",0.8);
  g.append("line").attr("x1",left).attr("x2",left).attr("y1",top).attr("y2",bottom).attr("stroke","#333").attr("stroke-width",1);
  g.append("line").attr("x1",left+pw).attr("x2",left+pw).attr("y1",top).attr("y2",bottom).attr("stroke","#444").attr("stroke-width",1);
  g.append("line").attr("x1",left).attr("x2",left+pw+aw).attr("y1",bottom).attr("y2",bottom).attr("stroke","#333").attr("stroke-width",1);
  // sig label
  if (sigLabels[k]) g.append("text").attr("x",left+5).attr("y",y(ym)+(k===6?-1:3.5)).attr("font-size",k===6?9:7.5).attr("fill","#333").text(sigLabels[k]);
  // preterm points
  g.selectAll(".pt").data(pts).join("circle").attr("cx",d=>x(d[0])).attr("cy",d=>y(d[1])).attr("r",2.35).attr("fill",TEAL);
  // trend
  const tl = trendLines[k];
  g.append("line").attr("x1",x(tl[0])).attr("y1",y(tl[1])).attr("x2",x(tl[2])).attr("y2",y(tl[3])).attr("stroke","#000").attr("stroke-width",1.3);
  // adult
  const cx = xa("Adult") + xa.bandwidth()/2;
  g.selectAll(".ad").data(adults[k]).join("circle").attr("cx",cx).attr("cy",d=>y(d)).attr("r",1.7).attr("fill","#000");
  g.append("line").attr("x1",cx-6.5).attr("x2",cx+6.5).attr("y1",y(adultMedians[k])).attr("y2",y(adultMedians[k])).attr("stroke","#000").attr("stroke-width",1.1);
  // y axis
  const ax = g.append("g").attr("font-size",8.4).attr("fill","#222");
  yTickSets[k].forEach((t,i)=>{
    ax.append("line").attr("x1",left-2.5).attr("x2",left).attr("y1",y(t)).attr("y2",y(t)).attr("stroke","#333").attr("stroke-width",0.8);
    ax.append("text").attr("x",left-4).attr("y",y(t)+3).attr("text-anchor","end").text(k===2?dTickLabels[i]:t);
  });
  // x axis
  xTicks.forEach(t=>{
    ax.append("line").attr("x1",x(t)).attr("x2",x(t)).attr("y1",bottom).attr("y2",bottom+2.5).attr("stroke","#333").attr("stroke-width",0.8);
    ax.append("text").attr("x",x(t)).attr("y",bottom+10.8).attr("text-anchor","middle").text(t);
  });
  ax.append("line").attr("x1",cx).attr("x2",cx).attr("y1",bottom).attr("y2",bottom+2.5).attr("stroke","#333").attr("stroke-width",0.8);
  ax.append("text").attr("x",cx).attr("y",bottom+10.8).attr("text-anchor","middle").text("Adult");
  g.append("text").attr("x",left+(pw+aw)/2).attr("y",bottom+rowTitleOff[row]).attr("text-anchor","middle").attr("font-size",9).attr("fill","#222").text("Postnatal age (weeks)");
  rich(g.append("text").attr("transform",`translate(${yTitleX[k]},${(top+bottom)/2}) rotate(-90)`).attr("text-anchor","middle").attr("font-size",8.8).attr("fill","#222"), yTitles[k]);
});
</script>
</body></html>
